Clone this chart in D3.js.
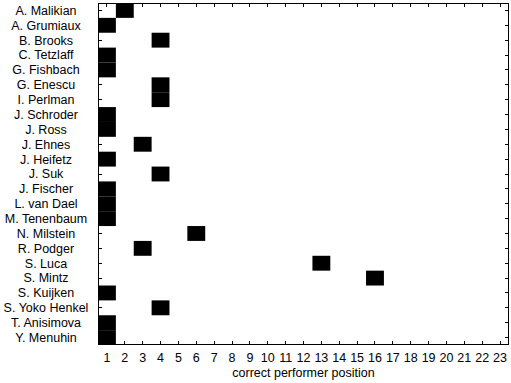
<!DOCTYPE html>
<html>
<head>
<script src="https://d3js.org/d3.v7.min.js"></script>
<style>
  body { margin: 0; background: #fff; }
  text { font-family: "Liberation Sans", Arial, sans-serif; }
</style>
</head>
<body>
<svg id="chart" width="511" height="383"></svg>
<script>
// performers, top to bottom
const performers = ["A. Malikian", "A. Grumiaux", "B. Brooks", "C. Tetzlaff", "G. Fishbach",
  "G. Enescu", "I. Perlman", "J. Schroder", "J. Ross", "J. Ehnes", "J. Heifetz", "J. Suk",
  "J. Fischer", "L. van Dael", "M. Tenenbaum", "N. Milstein", "R. Podger", "S. Luca",
  "S. Mintz", "S. Kuijken", "S. Yoko Henkel", "T. Anisimova", "Y. Menuhin"];
// position marked for each performer
const positions = [2, 1, 4, 1, 1, 4, 4, 1, 1, 3, 1, 4, 1, 1, 1, 6, 3, 13, 16, 1, 4, 1, 1];
const columns = d3.range(1, 24);
const xLabel = "correct performer position";

const svg = d3.select("#chart");
const mLeft = 98, mRight = 509, mTop = 3, mBottom = 345;

const x = d3.scaleBand().domain(columns).range([mLeft, mRight]);
const y = d3.scaleBand().domain(performers).range([mTop, mBottom]);

// cells
svg.append("g").selectAll("rect")
  .data(performers)
  .join("rect")
  .attr("x", (d, i) => x(positions[i]))
  .attr("y", d => y(d))
  .attr("width", x.bandwidth())
  .attr("height", y.bandwidth())
  .attr("fill", "#000");

const fontSize = "12.5px";

// inward ticks on all sides
function ticks(axis, tx, ty) {
  const g = svg.append("g").attr("transform", `translate(${tx},${ty})`).call(axis);
  g.select(".domain").remove();
  g.selectAll(".tick line").attr("stroke", "#000").attr("shape-rendering", "crispEdges");
  return g;
}

const bx = ticks(d3.axisBottom(x).tickSizeInner(-4).tickSizeOuter(0).tickPadding(8), 0, mBottom);
bx.selectAll("text").attr("font-size", fontSize).attr("fill", "#000")
  .style("font-family", "'Liberation Sans', Arial, sans-serif");

ticks(d3.axisTop(x).tickSizeInner(-4).tickSizeOuter(0).tickFormat(""), 0, mTop);
ticks(d3.axisRight(y).tickSizeInner(-4).tickSizeOuter(0).tickFormat(""), mRight, 0);
ticks(d3.axisLeft(y).tickSizeInner(-4).tickSizeOuter(0).tickFormat(""), mLeft, 0);

// row labels, centred in the left margin
svg.append("g").selectAll("text")
  .data(performers)
  .join("text")
  .attr("x", 46)
  .attr("y", d => y(d) + y.bandwidth() / 2)
  .attr("dy", "0.35em")
  .attr("text-anchor", "middle")
  .attr("font-size", fontSize)
  .text(d => d);

// frame
svg.append("rect")
  .attr("x", mLeft + 0.5).attr("y", mTop + 0.5)
  .attr("width", mRight - mLeft - 1).attr("height", mBottom - mTop - 1)
  .attr("fill", "none").attr("stroke", "#000")
  .attr("shape-rendering", "crispEdges");

svg.append("text")
  .attr("x", (mLeft + mRight) / 2)
  .attr("y", 377)
  .attr("text-anchor", "middle")
  .attr("font-size", fontSize)
  .text(xLabel);
</script>
</body>
</html>
